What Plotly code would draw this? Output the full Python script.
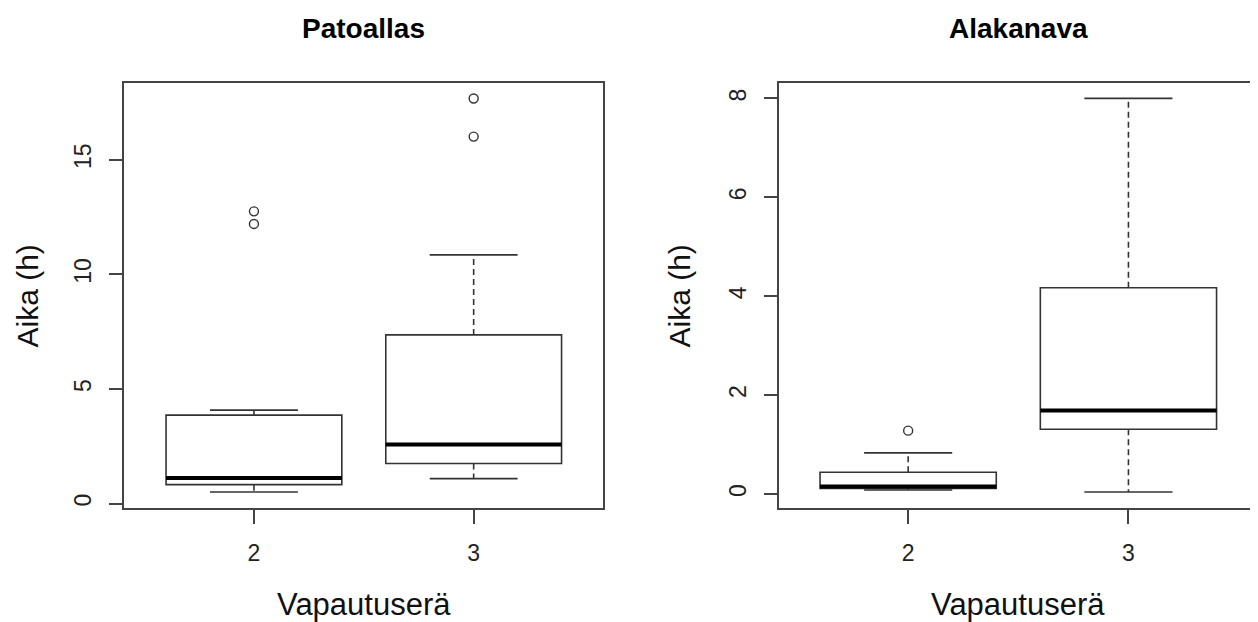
import plotly.graph_objects as go

# ---- data ----
groups = [2, 3]
titles = ["Patoallas", "Alakanava"]

# Patoallas
pato_lower = [0.51, 1.09]
pato_q1 = [0.83, 1.75]
pato_median = [1.12, 2.58]
pato_q3 = [3.86, 7.36]
pato_upper = [4.08, 10.85]
pato_out_x = [2, 2, 3, 3]
pato_out_y = [12.75, 12.2, 17.67, 16.01]

# Alakanava
ala_lower = [0.08, 0.04]
ala_q1 = [0.11, 1.31]
ala_median = [0.15, 1.69]
ala_q3 = [0.44, 4.17]
ala_upper = [0.83, 8.0]
ala_out_x = [2]
ala_out_y = [1.28]

x_ticks = [2, 3]
x_ticklabels = ["2", "3"]
pato_yticks = [0, 5, 10, 15]
ala_yticks = [0, 2, 4, 6, 8]

xlabel = "Vapautuserä"
ylabel = "Aika (h)"

BOX_HALF = 0.4
STAPLE_HALF = 0.2
LINE = "#333333"
FRAME = "#444444"
FONT = "Liberation Sans, Arial, sans-serif"

fig = go.Figure()


def add_panel(xa, ya, lower, q1, med, q3, upper, ox, oy):
    xref = "x" if xa == 1 else f"x{xa}"
    yref = "y" if ya == 1 else f"y{ya}"
    # box bodies
    fig.add_trace(go.Box(
        x=groups, q1=q1, median=med, q3=q3,
        lowerfence=q1, upperfence=q3,
        width=BOX_HALF * 2, whiskerwidth=0,
        fillcolor="white", line=dict(color=LINE, width=1.6),
        boxpoints=False, xaxis=xref, yaxis=yref, showlegend=False,
        hoverinfo="skip",
    ))
    for i, g in enumerate(groups):
        # dashed whiskers
        fig.add_trace(go.Scatter(
            x=[g, g, None, g, g], y=[q3[i], upper[i], None, q1[i], lower[i]],
            mode="lines", line=dict(color=LINE, width=1.6, dash="6px,4px"),
            xaxis=xref, yaxis=yref, showlegend=False, hoverinfo="skip"))
        # staples
        fig.add_trace(go.Scatter(
            x=[g - STAPLE_HALF, g + STAPLE_HALF, None, g - STAPLE_HALF, g + STAPLE_HALF],
            y=[upper[i], upper[i], None, lower[i], lower[i]],
            mode="lines", line=dict(color=LINE, width=1.6),
            xaxis=xref, yaxis=yref, showlegend=False, hoverinfo="skip"))
        # thick median
        fig.add_trace(go.Scatter(
            x=[g - BOX_HALF, g + BOX_HALF], y=[med[i], med[i]],
            mode="lines", line=dict(color="black", width=4),
            xaxis=xref, yaxis=yref, showlegend=False, hoverinfo="skip"))
    # outliers
    fig.add_trace(go.Scatter(
        x=ox, y=oy, mode="markers",
        marker=dict(symbol="circle-open", size=9, color=LINE, line=dict(width=1.4)),
        xaxis=xref, yaxis=yref, showlegend=False, hoverinfo="skip"))


add_panel(1, 1, pato_lower, pato_q1, pato_median, pato_q3, pato_upper, pato_out_x, pato_out_y)
add_panel(2, 2, ala_lower, ala_q1, ala_median, ala_q3, ala_upper, ala_out_x, ala_out_y)

# page body has an 8px margin: figure occupies window pixels 8..1258, 8..622
OFF = 8
W, H = 1258 - OFF, 622 - OFF


def px(xp):
    return (xp - OFF) / W


def py(yp):
    return 1 - (yp - OFF) / H


L_dom = [px(124.3), px(603.3)]
R_dom = [px(779.3), min(1.0, px(1257.3))]
Y_dom = [py(507.7), py(82.7)]

axis_common = dict(
    showline=True, mirror=True, linecolor=FRAME, linewidth=1.6,
    ticks="outside", ticklen=14, tickwidth=1.6, tickcolor=FRAME,
    showgrid=False, zeroline=False,
    tickfont=dict(family=FONT, size=23, color="#222222"),
)

fig.update_layout(
    width=W, height=H,
    margin=dict(l=0, r=0, t=0, b=0),
    paper_bgcolor="white", plot_bgcolor="white",
    xaxis=dict(domain=L_dom, range=[1.41, 3.59], tickvals=x_ticks, ticktext=x_ticklabels,
               anchor="y", ticklabelstandoff=10, **axis_common),
    yaxis=dict(domain=Y_dom, range=[-0.176, 18.36], tickvals=pato_yticks, tickangle=-90,
               anchor="x", ticklabelstandoff=8, **axis_common),
    xaxis2=dict(domain=R_dom, range=[1.415, 3.585], tickvals=x_ticks, ticktext=x_ticklabels,
                anchor="y2", ticklabelstandoff=10, **axis_common),
    yaxis2=dict(domain=Y_dom, range=[-0.278, 8.318], tickvals=ala_yticks, tickangle=-90,
                anchor="x2", ticklabelstandoff=8, **axis_common),
)

centers = [(L_dom[0] + L_dom[1]) / 2, (R_dom[0] + R_dom[1]) / 2]
ylab_x = [px(8), px(660)]
for i in range(2):
    fig.add_annotation(text=f"<b>{titles[i]}</b>", x=centers[i], y=py(28),
                       xref="paper", yref="paper", showarrow=False,
                       xanchor="center", yanchor="middle",
                       font=dict(family=FONT, size=28, color="black"))
    fig.add_annotation(text=xlabel, x=centers[i], y=py(604),
                       xref="paper", yref="paper", showarrow=False,
                       xanchor="center", yanchor="middle",
                       font=dict(family=FONT, size=31, color="#111111"))
    fig.add_annotation(text=ylabel, x=ylab_x[i], y=py(296), textangle=-90,
                       xref="paper", yref="paper", showarrow=False,
                       xanchor="left", yanchor="middle",
                       font=dict(family=FONT, size=30, color="#111111"))

fig.write_html("out.html")
